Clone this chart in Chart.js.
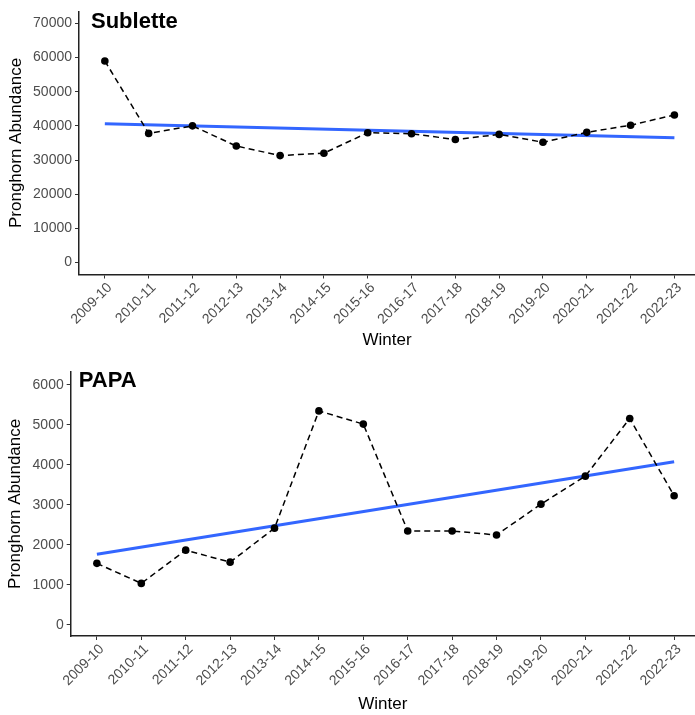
<!DOCTYPE html>
<html>
<head>
<meta charset="utf-8">
<script src="https://cdn.jsdelivr.net/npm/chart.js@4/dist/chart.umd.min.js"></script>
<style>
  body { margin: 0; background: #fff; overflow: hidden; }
  canvas { display: block; }
</style>
</head>
<body>
<canvas id="chartSublette" width="695" height="357"></canvas>
<canvas id="chartPapa" width="695" height="358"></canvas>
<script>
// winters on the x axis
const winters = ['2009-10', '2010-11', '2011-12', '2012-13', '2013-14', '2014-15', '2015-16',
  '2016-17', '2017-18', '2018-19', '2019-20', '2020-21', '2021-22', '2022-23'];

// Sublette herd unit
const subletteCounts = [59000, 37800, 40000, 34100, 31300, 32000, 38000, 37700, 36000, 37500, 35200, 38100, 40200, 43200];
const subletteTrend = [40600, 36500]; // fitted line at first and last winter
const subletteTicks = [0, 10000, 20000, 30000, 40000, 50000, 60000, 70000];

// PAPA
const papaCounts = [1540, 1040, 1870, 1570, 2420, 5350, 5020, 2350, 2350, 2250, 3020, 3720, 5160, 3230];
const papaTrend = [1770, 4080];
const papaTicks = [0, 1000, 2000, 3000, 4000, 5000, 6000];

const FONT = "'Liberation Sans', Arial, sans-serif";

/**
 * panelLabel: schreibt den Titel oben links in die Zeichenfläche
 */
const panelLabel = {
  id: 'panelLabel',
  afterDraw(chart, args, opts) {
    const ctx = chart.ctx;
    const area = chart.chartArea;
    ctx.save();
    ctx.font = 'bold 22px ' + FONT;
    ctx.fillStyle = '#000';
    ctx.textBaseline = 'alphabetic';
    ctx.fillText(opts.text, area.left + opts.dx, area.top + opts.dy);
    ctx.restore();
  }
};

function initChart(canvasId, label, counts, trend, yTicks, yMin, yMax, yWidth, xHeight, padTop, yTitlePad, xTitlePad, labelDx, labelDy) {
  const ctx = document.getElementById(canvasId).getContext('2d');
  const last = winters.length - 1;
  return new Chart(ctx, {
    type: 'line',
    data: {
      datasets: [{
        data: counts.map((v, i) => ({x: i, y: v})),
        borderColor: '#000',
        borderWidth: 1.5,
        borderDash: [6, 4],
        pointRadius: 3.8,
        pointBackgroundColor: '#000',
        pointBorderWidth: 0,
        tension: 0
      }, {
        data: [{x: 0, y: trend[0]}, {x: last, y: trend[1]}],
        borderColor: '#3366FF',
        borderWidth: 3,
        pointRadius: 0,
        tension: 0
      }]
    },
    options: {
      responsive: false,
      animation: false,
      devicePixelRatio: 1,
      layout: { autoPadding: false, padding: { top: padTop, right: 0, bottom: 0, left: 0 } },
      plugins: {
        legend: { display: false },
        tooltip: { enabled: false },
        panelLabel: { text: label, dx: labelDx, dy: labelDy }
      },
      scales: {
        x: {
          type: 'linear',
          min: -0.59,
          max: 13.47,
          afterBuildTicks: (scale) => { scale.ticks = winters.map((w, i) => ({value: i})); },
          afterFit: (scale) => {
            scale.height = xHeight;
            scale.paddingLeft = 0;
            scale.paddingRight = 0;
          },
          ticks: {
            callback: (value) => winters[value],
            minRotation: 45,
            maxRotation: 45,
            autoSkip: false,
            padding: 1,
            labelOffset: 5,
            color: '#4D4D4D',
            font: { family: FONT, size: 14 }
          },
          grid: { drawOnChartArea: false, drawTicks: true, tickLength: 4, color: '#333', lineWidth: 1 },
          border: { display: true, color: '#222', width: 1.5 },
          title: { display: true, text: 'Winter', color: '#000', font: { family: FONT, size: 17 }, padding: { top: 0, bottom: xTitlePad } }
        },
        y: {
          min: yMin,
          max: yMax,
          afterBuildTicks: (scale) => { scale.ticks = yTicks.map(v => ({value: v})); },
          afterFit: (scale) => { scale.width = yWidth; },
          ticks: {
            callback: (value) => String(value),
            color: '#4D4D4D',
            padding: 3,
            font: { family: FONT, size: 14 }
          },
          grid: { drawOnChartArea: false, drawTicks: true, tickLength: 4, color: '#333', lineWidth: 1 },
          border: { display: true, color: '#222', width: 1.5 },
          title: { display: true, text: 'Pronghorn Abundance', color: '#000', font: { family: FONT, size: 17 }, padding: { top: yTitlePad, bottom: 0 } }
        }
      }
    },
    plugins: [panelLabel]
  });
}

const chartSublette = initChart('chartSublette', 'Sublette', subletteCounts, subletteTrend, subletteTicks,
  -3500, 73500, 79, 82.5, 8.5, 6, 6, 12, 17);
const chartPapa = initChart('chartPapa', 'PAPA', papaCounts, papaTrend, papaTicks,
  -275, 6330, 70.7, 79, 14.7, 5, 0, 8, 15);
</script>
</body>
</html>
